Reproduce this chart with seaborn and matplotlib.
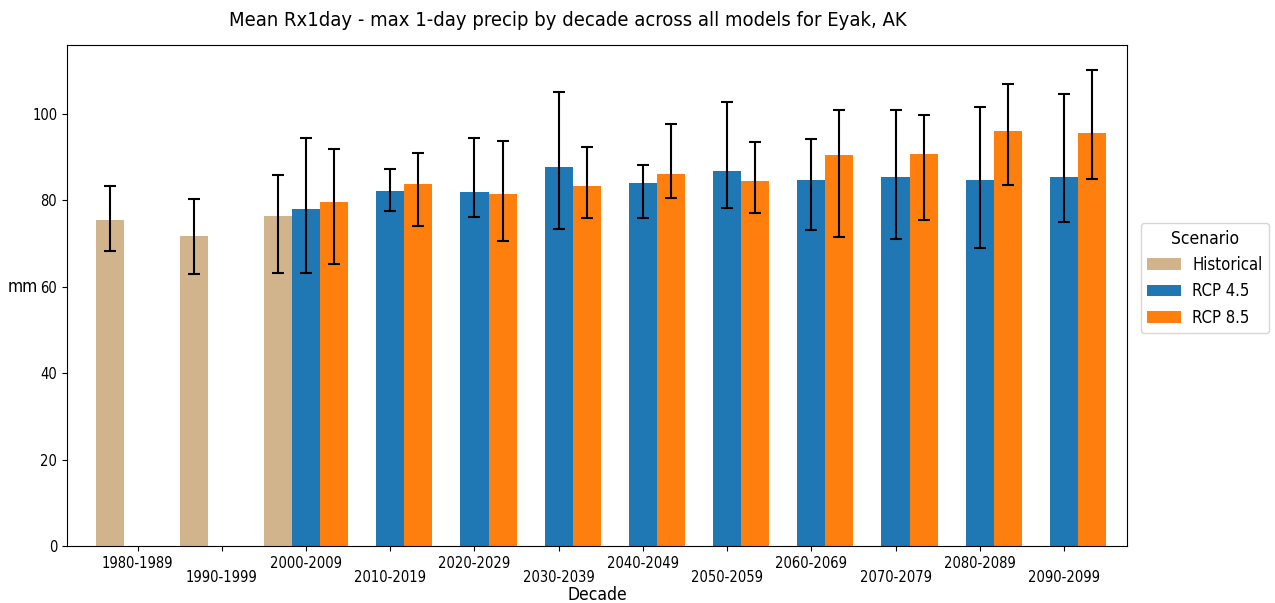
import numpy as np
import pandas as pd
import matplotlib
matplotlib.use("Agg")
import matplotlib.pyplot as plt
import seaborn as sns
from matplotlib import font_manager

decades = ["1980-1989", "1990-1999", "2000-2009", "2010-2019", "2020-2029", "2030-2039",
           "2040-2049", "2050-2059", "2060-2069", "2070-2079", "2080-2089", "2090-2099"]
scenarios = ["Historical", "RCP 4.5", "RCP 8.5"]
colors = ["#d2b48c", "#1f77b4", "#ff7f0e"]

hist_decades = ["1980-1989", "1990-1999", "2000-2009"]
hist_mean = [75.4, 71.8, 76.3]
hist_lo = [68.3, 62.8, 63.1]
hist_hi = [83.2, 80.2, 85.9]

rcp_decades = decades[2:]
rcp45_mean = [78.0, 82.2, 81.9, 87.7, 83.9, 86.7, 84.7, 85.3, 84.7, 85.3]
rcp45_lo = [63.1, 77.5, 76.1, 73.4, 75.8, 78.1, 73.0, 71.1, 68.9, 75.0]
rcp45_hi = [94.4, 87.2, 94.3, 105.0, 88.1, 102.7, 94.2, 100.8, 101.5, 104.6]

rcp85_mean = [79.5, 83.6, 81.4, 83.2, 86.1, 84.5, 90.4, 90.6, 95.9, 95.6]
rcp85_lo = [65.3, 74.0, 70.5, 75.8, 80.5, 77.1, 71.5, 75.5, 83.5, 84.9]
rcp85_hi = [91.7, 90.9, 93.6, 92.3, 97.5, 93.4, 100.8, 99.7, 106.9, 110.1]

frames = []
for scen, decs, m, lo, hi in [("Historical", hist_decades, hist_mean, hist_lo, hist_hi),
                              ("RCP 4.5", rcp_decades, rcp45_mean, rcp45_lo, rcp45_hi),
                              ("RCP 8.5", rcp_decades, rcp85_mean, rcp85_lo, rcp85_hi)]:
    frames.append(pd.DataFrame({"Decade": decs, "Scenario": scen, "mm": m, "lo": lo, "hi": hi}))
df = pd.concat(frames, ignore_index=True)

names = {f.name for f in font_manager.fontManager.ttflist}
if "DejaVu Sans Condensed" in names:
    plt.rcParams["font.family"] = ["DejaVu Sans Condensed", "DejaVu Sans"]
else:
    plt.rcParams["font.family"] = ["DejaVu Sans"]
    plt.rcParams["font.stretch"] = "condensed"

fig = plt.figure(figsize=(12.75, 6.03), dpi=100)
ax = fig.add_axes([0.0525, 0.0945, 0.8315, 0.8305])

sns.barplot(data=df, x="Decade", y="mm", hue="Scenario", order=decades,
            hue_order=scenarios, palette=colors, saturation=1, width=1.0,
            errorbar=None, ax=ax, linewidth=0)

for scen, container in zip(scenarios, ax.containers):
    present = set(df.loc[df["Scenario"] == scen, "Decade"])
    sub = df[df["Scenario"] == scen].set_index("Decade").reindex(
        [d for d in decades if d in present])
    xs = [b.get_x() + b.get_width() / 2 for b in container]
    hs = np.array([b.get_height() for b in container])
    yerr = np.array([hs - sub["lo"].values, sub["hi"].values - hs])
    ax.errorbar(xs, hs, yerr=yerr, fmt="none", ecolor="black", elinewidth=1.5,
                capsize=4, capthick=1.5, zorder=5)

ax.set_xlim(-0.84, 11.75)
ax.set_ylim(0, 115.8)
ax.set_yticks([0, 20, 40, 60, 80, 100])
ax.tick_params(axis="both", labelsize=10.5)
for i, t in enumerate(ax.xaxis.get_major_ticks()):
    if i % 2 == 1:
        t.set_pad(t.get_pad() + 10)

ax.set_title("Mean Rx1day - max 1-day precip by decade across all models for Eyak, AK",
             fontsize=14.5, pad=14, x=0.4726)
ax.set_xlabel("Decade", fontsize=12.5, labelpad=1)
ax.set_ylabel("mm", fontsize=12.5, rotation=0, va="center", ha="center")
ax.yaxis.set_label_coords(-0.0415, 0.517)

leg = ax.legend(title="Scenario", loc="center left", bbox_to_anchor=(1.005, 0.535),
                fontsize=12, title_fontsize=12.5, handlelength=2.0, handletextpad=0.7)

fig.savefig("out.png", dpi=100)
